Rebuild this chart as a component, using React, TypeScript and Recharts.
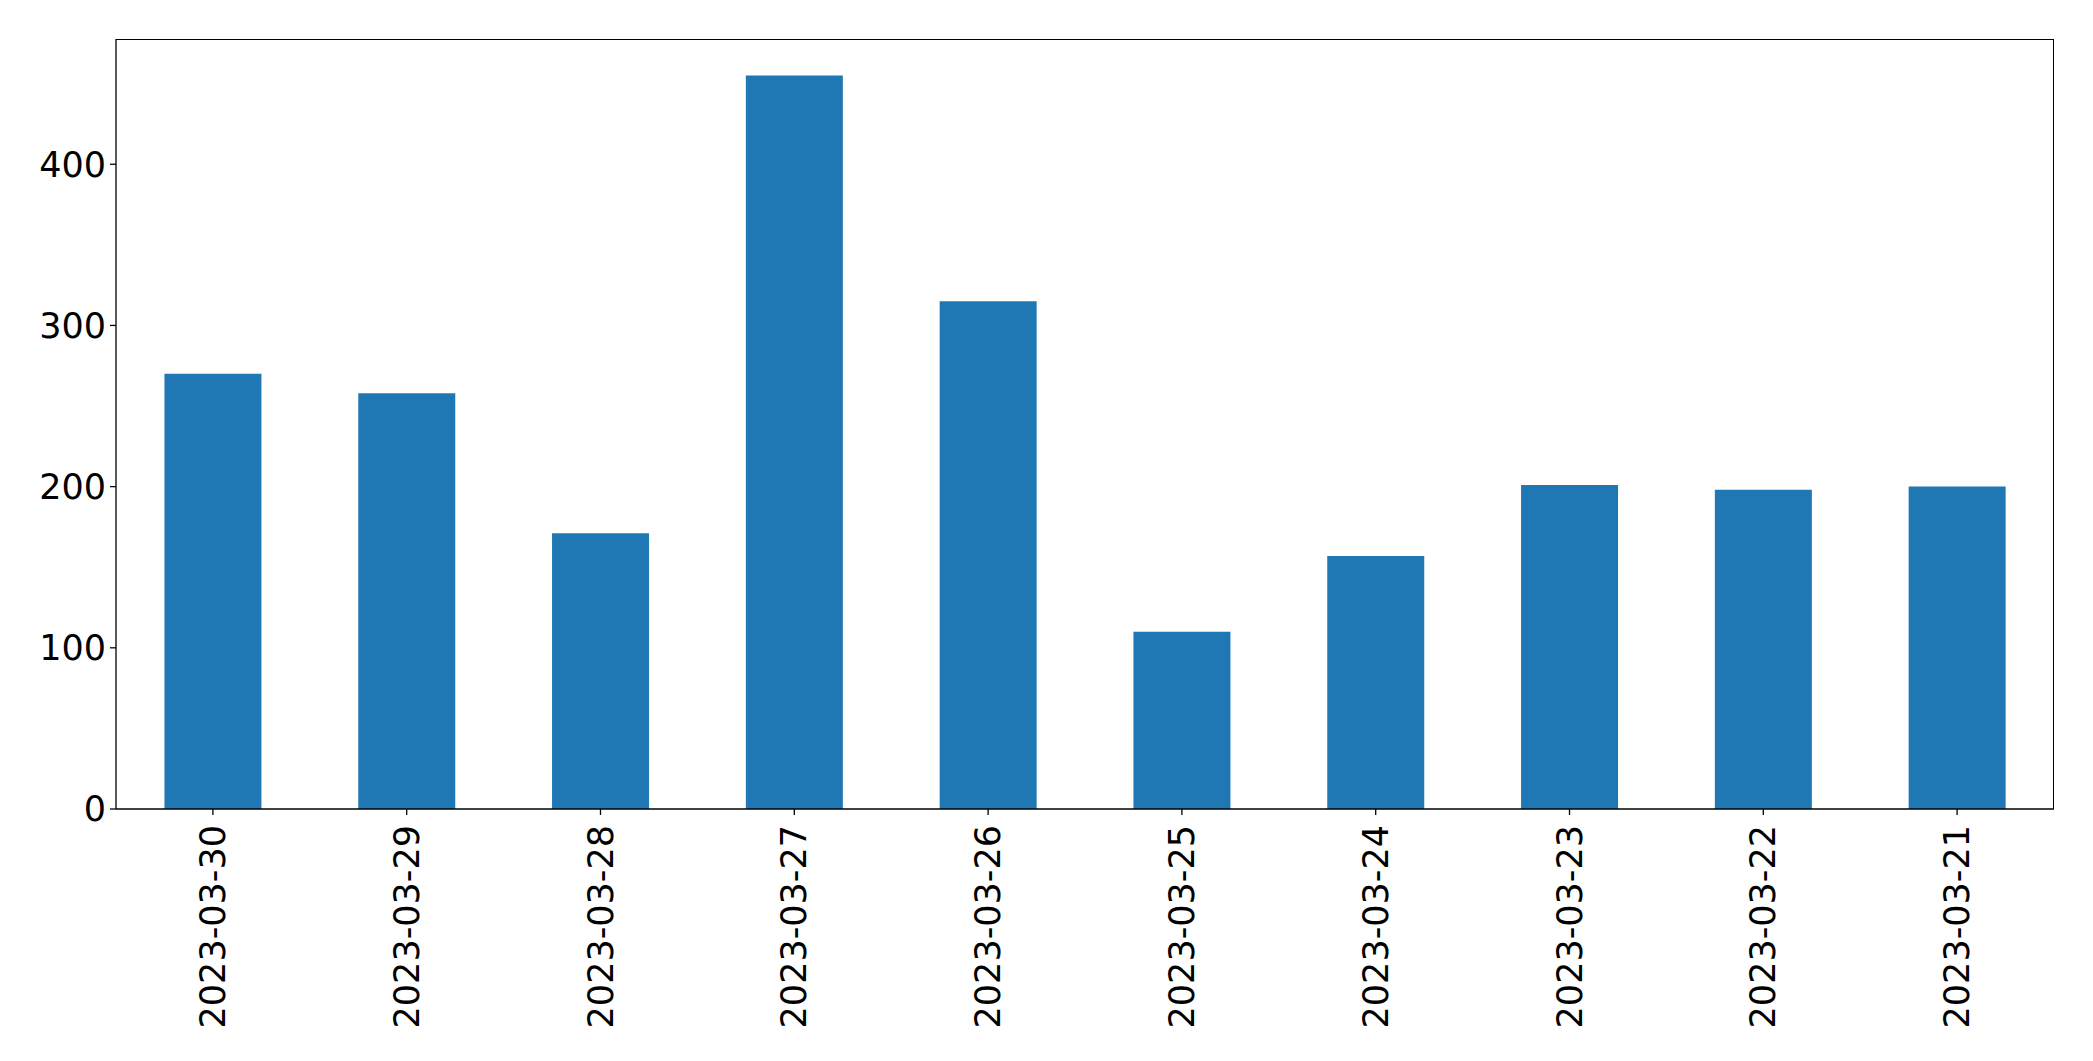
import React from 'react';
import { BarChart, Bar, XAxis, YAxis } from 'recharts';

const dates = [
  '2023-03-30', '2023-03-29', '2023-03-28', '2023-03-27', '2023-03-26',
  '2023-03-25', '2023-03-24', '2023-03-23', '2023-03-22', '2023-03-21',
];
const counts = [270, 258, 171, 455, 315, 110, 157, 201, 198, 200];
const yTicks = [0, 100, 200, 300, 400];

const data = dates.map((date, i) => ({ date, count: counts[i] }));

const FONT = 'DejaVu Sans, sans-serif';

// plot box, matched to the reference frame
const PLOT = { left: 116, top: 39, right: 39, bottom: 252 };

const RotatedTick = ({ x, y, payload }: any) => (
  <text
    x={x}
    y={y}
    transform={`rotate(-90, ${x}, ${y})`}
    textAnchor="end"
    dominantBaseline="central"
    fontFamily={FONT}
    fontSize={35}
    fill="#000"
  >
    {payload.value}
  </text>
);

const App = () => {
  return (
    <div style={{ position: 'absolute', left: 0, top: 0, width: 2093, height: 1061, background: '#fff' }}>
      <BarChart
        width={2093}
        height={1061}
        data={data}
        margin={{ top: PLOT.top, right: PLOT.right, left: 0, bottom: 0 }}
        barCategoryGap="25%"
      >
        <XAxis
          dataKey="date"
          height={PLOT.bottom}
          interval={0}
          tickSize={6}
          tickMargin={10}
          tick={<RotatedTick />}
          axisLine={{ stroke: '#000', strokeWidth: 1.3 }}
          tickLine={{ stroke: '#000', strokeWidth: 1.3 }}
        />
        <YAxis
          width={PLOT.left}
          domain={[0, 477.7]}
          ticks={yTicks}
          tickSize={6}
          tickMargin={4}
          tick={{ fontFamily: FONT, fontSize: 35, fill: '#000' }}
          axisLine={{ stroke: '#000', strokeWidth: 1.3 }}
          tickLine={{ stroke: '#000', strokeWidth: 1.3 }}
        />
        <Bar dataKey="count" fill="#1f77b4" isAnimationActive={false} />
      </BarChart>
      {/* frame: top and right spines */}
      <div
        style={{
          position: 'absolute',
          left: PLOT.left,
          top: PLOT.top,
          right: PLOT.right,
          bottom: PLOT.bottom,
          borderTop: '1.3px solid #000',
          borderRight: '1.3px solid #000',
          pointerEvents: 'none',
        }}
      />
    </div>
  );
};

export default App;
